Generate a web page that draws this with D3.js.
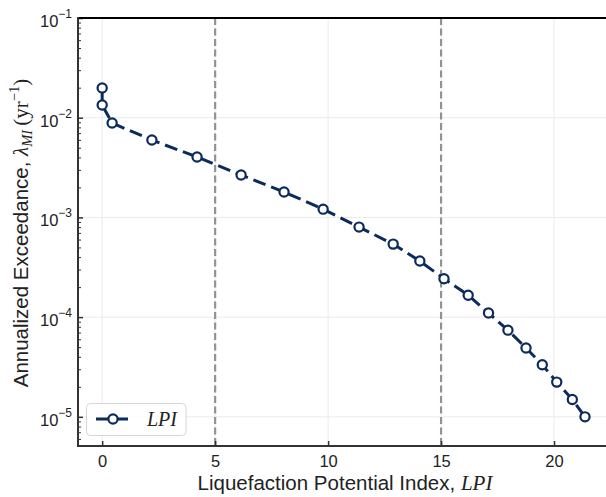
<!DOCTYPE html>
<html>
<head>
<meta charset="utf-8">
<script src="https://cdn.jsdelivr.net/npm/d3@7"></script>
<style>
  body { margin: 0; background: #fff; }
  svg { display: block; }
</style>
</head>
<body>
<svg id="chart"></svg>
<script>
// data
var lpi = [0, 0, 0.44, 2.2, 4.2, 6.15, 8.05, 9.78, 11.37, 12.88, 14.06, 15.13, 16.2, 17.1, 17.96, 18.76, 19.48, 20.12, 20.81, 21.37];
var rate = [0.0199, 0.0134, 0.00885, 0.00597, 0.00404, 0.00266, 0.0018, 0.00121, 0.0008, 0.00054, 0.000365, 0.000243, 0.000166, 0.00011, 7.4e-5, 4.9e-5, 3.33e-5, 2.23e-5, 1.49e-5, 1.0e-5];
var xTicks = [0, 5, 10, 15, 20];
var yExponents = [-1, -2, -3, -4, -5];
var vLines = [5, 15];

var svgWidth = 606, svgHeight = 497;
var plotLeft = 78, plotTop = 18, plotBottom = 446, plotRight = 606;
var navy = "#0c2b5c";
var sans = "'Liberation Sans', Arial, sans-serif";
var serif = "'Liberation Serif', 'Times New Roman', serif";

var svg = d3.select('#chart')
  .attr("width", svgWidth)
  .attr("height", svgHeight);

var xScale = d3.scaleLinear()
  .domain([-1.07, 22.3])
  .range([plotLeft, plotRight]);

var yScale = d3.scaleLog()
  .domain([5.1e-6, 0.1])
  .range([plotBottom, plotTop]);

var data = lpi.map(function (d, i) { return { x: d, y: rate[i] }; });

// grid
var grid = svg.append("g");
grid.selectAll("line.gx")
  .data(xTicks)
  .enter()
  .append("line")
  .attr("x1", function (d) { return xScale(d); })
  .attr("x2", function (d) { return xScale(d); })
  .attr("y1", plotTop)
  .attr("y2", plotBottom)
  .attr("stroke", "#ebebeb")
  .attr("stroke-width", 1);
grid.selectAll("line.gy")
  .data(yExponents)
  .enter()
  .append("line")
  .attr("x1", plotLeft)
  .attr("x2", plotRight)
  .attr("y1", function (d) { return yScale(Math.pow(10, d)); })
  .attr("y2", function (d) { return yScale(Math.pow(10, d)); })
  .attr("stroke", "#ebebeb")
  .attr("stroke-width", 1);

// vertical reference lines
svg.selectAll("line.vref")
  .data(vLines)
  .enter()
  .append("line")
  .attr("x1", function (d) { return xScale(d); })
  .attr("x2", function (d) { return xScale(d); })
  .attr("y1", plotTop)
  .attr("y2", plotBottom)
  .attr("stroke", "#929292")
  .attr("stroke-width", 2.2)
  .attr("stroke-dasharray", "7,3.5");

// series
var line = d3.line()
  .x(function (d) { return xScale(d.x); })
  .y(function (d) { return yScale(d.y); });

svg.append("path")
  .datum(data)
  .attr("d", line)
  .attr("fill", "none")
  .attr("stroke", navy)
  .attr("stroke-width", 3)
  .attr("stroke-dasharray", "13,6");

svg.selectAll("circle.pt")
  .data(data)
  .enter()
  .append("circle")
  .attr("cx", function (d) { return xScale(d.x); })
  .attr("cy", function (d) { return yScale(d.y); })
  .attr("r", 4.6)
  .attr("fill", "#fff")
  .attr("stroke", navy)
  .attr("stroke-width", 2.2);

// axes (ticks inward)
var xAxis = d3.axisBottom(xScale)
  .tickValues(xTicks)
  .tickSizeInner(-5)
  .tickSizeOuter(0)
  .tickPadding(9)
  .tickFormat(d3.format("d"));

var gx = svg.append("g")
  .attr("transform", "translate(0," + plotBottom + ")")
  .call(xAxis);
gx.select(".domain").remove();
gx.selectAll("line").attr("stroke", "#333").attr("stroke-width", 1.5);
gx.selectAll("text")
  .attr("font-family", sans)
  .attr("font-size", 16.5)
  .attr("fill", "#222");

var minorVals = [];
yExponents.concat([-6]).forEach(function (e) {
  for (var k = 2; k <= 9; k++) {
    var v = k * Math.pow(10, e);
    if (v >= 5.1e-6 && v <= 0.1) minorVals.push(v);
  }
});

var yMinor = d3.axisLeft(yScale)
  .tickValues(minorVals)
  .tickSizeInner(-3)
  .tickSizeOuter(0)
  .tickFormat("");
var gym = svg.append("g")
  .attr("transform", "translate(" + plotLeft + ",0)")
  .call(yMinor);
gym.select(".domain").remove();
gym.selectAll("line").attr("stroke", "#333").attr("stroke-width", 1);

var yMajor = d3.axisLeft(yScale)
  .tickValues(yExponents.map(function (e) { return Math.pow(10, e); }))
  .tickSizeInner(-5)
  .tickSizeOuter(0)
  .tickFormat("");
var gy = svg.append("g")
  .attr("transform", "translate(" + plotLeft + ",0)")
  .call(yMajor);
gy.select(".domain").remove();
gy.selectAll("line").attr("stroke", "#333").attr("stroke-width", 1.5);

// y tick labels 10^e
var yLab = svg.selectAll("text.ylab")
  .data(yExponents)
  .enter()
  .append("text")
  .attr("class", "ylab")
  .attr("x", 72)
  .attr("y", function (d) { return yScale(Math.pow(10, d)) + 9; })
  .attr("text-anchor", "end")
  .attr("font-family", sans)
  .attr("fill", "#222");
yLab.append("tspan")
  .attr("font-size", 16.5)
  .text("10");
yLab.append("tspan")
  .attr("font-size", 12)
  .attr("dy", -9)
  .text(function (d) { return "\u2212" + Math.abs(d); });

// spines
svg.append("line")
  .attr("x1", plotLeft).attr("x2", plotRight)
  .attr("y1", plotTop).attr("y2", plotTop)
  .attr("stroke", "#000").attr("stroke-width", 2.2);
svg.append("line")
  .attr("x1", plotLeft).attr("x2", plotLeft)
  .attr("y1", plotTop - 1).attr("y2", plotBottom + 1)
  .attr("stroke", "#333").attr("stroke-width", 2);
svg.append("line")
  .attr("x1", plotLeft - 1).attr("x2", plotRight)
  .attr("y1", plotBottom).attr("y2", plotBottom)
  .attr("stroke", "#333").attr("stroke-width", 2);

// x label
var xl = svg.append("text")
  .attr("x", 345)
  .attr("y", 490)
  .attr("text-anchor", "middle")
  .attr("font-size", 20.5)
  .attr("fill", "#222");
xl.append("tspan").attr("font-family", sans).text("Liquefaction Potential Index, ");
xl.append("tspan").attr("font-family", serif).attr("font-style", "italic").attr("font-size", 21).text("LPI");

// y label
var yl = svg.append("text")
  .attr("transform", "translate(28,233) rotate(-90)")
  .attr("text-anchor", "middle")
  .attr("font-size", 20.5)
  .attr("fill", "#222");
yl.append("tspan").attr("font-family", sans).text("Annualized Exceedance, ");
yl.append("tspan").attr("font-family", serif).attr("font-style", "italic").attr("font-size", 21).text("\u03bb");
yl.append("tspan").attr("font-family", serif).attr("font-style", "italic").attr("font-size", 14.5).attr("dy", 4).text("MI");
yl.append("tspan").attr("font-family", serif).attr("font-size", 21).attr("dy", -4).text("\u2009(yr");
yl.append("tspan").attr("font-family", serif).attr("font-size", 14.5).attr("dy", -9).text("\u22121");
yl.append("tspan").attr("font-family", serif).attr("font-size", 21).attr("dy", 9).text(")");

// legend
var lg = svg.append("g");
lg.append("rect")
  .attr("x", 86.5).attr("y", 403.5)
  .attr("width", 99.5).attr("height", 32)
  .attr("rx", 4)
  .attr("fill", "rgba(255,255,255,0.85)")
  .attr("stroke", "#d6d6d6")
  .attr("stroke-width", 1);
lg.append("line")
  .attr("x1", 96).attr("x2", 134)
  .attr("y1", 419).attr("y2", 419)
  .attr("stroke", navy)
  .attr("stroke-width", 3)
  .attr("stroke-dasharray", "13,6");
lg.append("circle")
  .attr("cx", 113).attr("cy", 419)
  .attr("r", 4.6)
  .attr("fill", "#fff")
  .attr("stroke", navy)
  .attr("stroke-width", 2.2);
lg.append("text")
  .attr("x", 147).attr("y", 426)
  .attr("font-family", serif)
  .attr("font-style", "italic")
  .attr("font-size", 20)
  .attr("fill", "#222")
  .text("LPI");
</script>
</body>
</html>
